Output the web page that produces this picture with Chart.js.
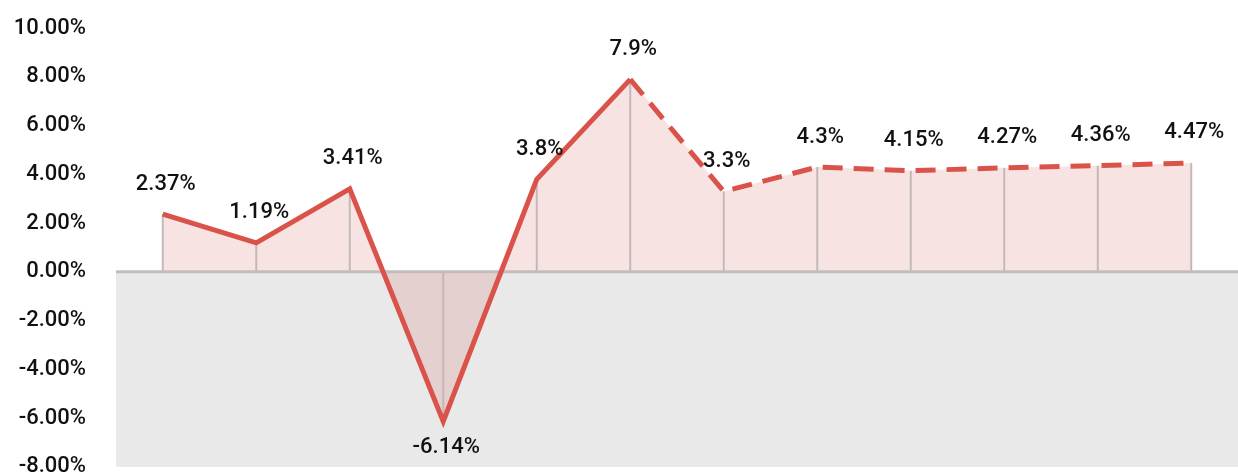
<!DOCTYPE html>
<html>
<head>
<meta charset="utf-8">
<script src="https://cdn.jsdelivr.net/npm/chart.js@4/dist/chart.umd.min.js"></script>
<style>
  html, body { margin: 0; padding: 0; background: #fff; overflow: hidden; }
  #wrap { width: 1238px; height: 473px; overflow: hidden; position: relative; }
  #c { position: absolute; left: 0; top: -15px; }
</style>
</head>
<body>
<div id="wrap"><canvas id="c" width="1238" height="525"></canvas></div>
<script>
// growth rates, last part is forecast (dashed)
var periods = ["1", "2", "3", "4", "5", "6", "7", "8", "9", "10", "11", "12"];
var growth = [2.37, 1.19, 3.41, -6.14, 3.8, 7.9, 3.3, 4.3, 4.15, 4.27, 4.36, 4.47];
var pointLabels = ["2.37%", "1.19%", "3.41%", "-6.14%", "3.8%", "7.9%", "3.3%", "4.3%", "4.15%", "4.27%", "4.36%", "4.47%"];
var forecastFrom = 5;

var lineColor = "#d9534b";
var font = "Roboto, 'DejaVu Sans', sans-serif";

var decor = {
    id: "decor",
    beforeDraw: function(chart) {
        var ctx = chart.ctx, a = chart.chartArea, y = chart.scales.y;
        var y0 = y.getPixelForValue(0);
        ctx.save();
        ctx.fillStyle = "#e9e9e9";
        ctx.fillRect(a.left, y0, a.right - a.left, a.bottom - y0);
        ctx.restore();
    },
    beforeDatasetsDraw: function(chart) {
        var ctx = chart.ctx, a = chart.chartArea, y = chart.scales.y;
        var y0 = y.getPixelForValue(0);
        var meta = chart.getDatasetMeta(0);
        ctx.save();
        ctx.strokeStyle = "#c2b8b8";
        ctx.lineWidth = 2;
        meta.data.forEach(function(p) {
            ctx.beginPath();
            ctx.moveTo(p.x, y0);
            ctx.lineTo(p.x, p.y);
            ctx.stroke();
        });
        ctx.strokeStyle = "#c4bcbc";
        ctx.lineWidth = 3;
        ctx.beginPath();
        ctx.moveTo(a.left, y0);
        ctx.lineTo(a.right, y0);
        ctx.stroke();
        ctx.restore();
    },
    afterDatasetsDraw: function(chart) {
        var ctx = chart.ctx;
        var meta = chart.getDatasetMeta(0);
        ctx.save();
        ctx.font = "500 22px " + font;
        ctx.fillStyle = "#111";
        ctx.textAlign = "center";
        ctx.textBaseline = "middle";
        meta.data.forEach(function(p, i) {
            var dy = growth[i] < 0 ? 26 : -30;
            ctx.fillText(pointLabels[i], p.x + 3, p.y + dy);
        });
        ctx.restore();
    }
};

var chart = new Chart(document.getElementById("c").getContext("2d"), {
    type: "line",
    data: {
        labels: periods,
        datasets: [{
            data: growth,
            borderColor: lineColor,
            borderWidth: 5,
            backgroundColor: "rgba(215, 90, 90, 0.17)",
            fill: "origin",
            pointRadius: 0,
            tension: 0,
            segment: {
                borderDash: function(c) { return c.p0DataIndex >= forecastFrom ? [20, 11] : undefined; }
            }
        }]
    },
    options: {
        responsive: false,
        animation: false,
        layout: { padding: { top: 2, right: 0, bottom: 14, left: 0 } },
        plugins: {
            legend: { display: false },
            tooltip: { enabled: false },
            filler: { drawTime: "beforeDatasetsDraw" }
        },
        scales: {
            x: {
                display: false,
                offset: true
            },
            y: {
                min: -8,
                max: 10,
                border: { display: false },
                grid: { display: false, drawTicks: false },
                afterFit: function(s) { s.width = 116; },
                ticks: {
                    stepSize: 2,
                    padding: 30,
                    color: "#111",
                    font: { family: font, size: 22, weight: "500" },
                    callback: function(v) { return v.toFixed(2) + "%"; }
                }
            }
        }
    },
    plugins: [decor]
});
</script>
</body>
</html>
